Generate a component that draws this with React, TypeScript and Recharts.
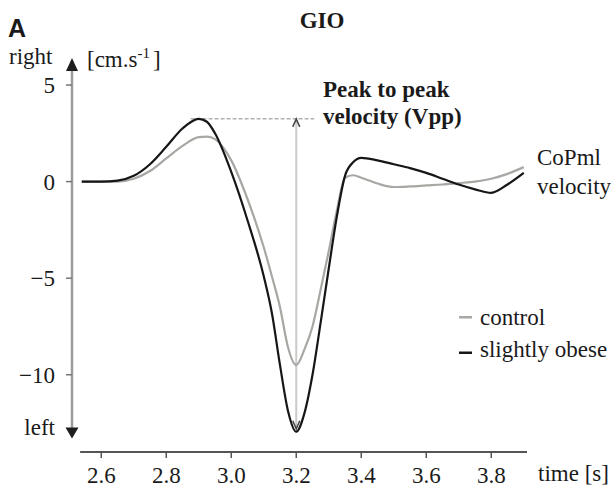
import React from 'react';
import { LineChart, Line, XAxis, YAxis, ReferenceLine } from 'recharts';

// CoPml velocity, cm/s
const time = [2.54, 2.6, 2.65, 2.7, 2.75, 2.8, 2.85, 2.9, 2.925, 2.95, 3.0, 3.05, 3.1, 3.125, 3.15, 3.175, 3.2, 3.225, 3.25, 3.275, 3.3, 3.325, 3.35, 3.375, 3.4, 3.45, 3.5, 3.55, 3.6, 3.65, 3.7, 3.75, 3.8, 3.85, 3.9];
const control = [0, 0, 0, 0.15, 0.55, 1.2, 1.85, 2.3, 2.33, 2.2, 1.1, -0.9, -3.4, -4.9, -6.5, -8.6, -9.5, -8.7, -7.5, -5.6, -3.6, -1.5, 0.2, 0.33, 0.2, -0.1, -0.28, -0.25, -0.2, -0.15, -0.08, 0, 0.15, 0.4, 0.75];
const obese = [0, 0, 0.05, 0.3, 0.9, 1.8, 2.75, 3.25, 3.1, 2.5, 0.5, -2.0, -4.9, -6.8, -9.5, -11.9, -12.95, -12.0, -10.0, -7.3, -4.5, -1.8, 0.3, 1.0, 1.23, 1.1, 0.9, 0.7, 0.45, 0.15, -0.15, -0.4, -0.58, -0.15, 0.45];

const xTicks = [2.6, 2.8, 3.0, 3.2, 3.4, 3.6, 3.8];
const yTicks = [5, 0, -5, -10];
const xDomain = [2.51, 3.91];
const yDomain = [-14, 6.4];
const xAxisStart = 2.535;
const yArrowBottom = -13.3;

const legendLabels = ['control', 'slightly obese'];
const seriesColors = ['#a6a8a3', '#161616'];

const SERIF = "'Liberation Serif', 'Times New Roman', serif";
const INK = '#1a1a1a';

const data = time.map((t, i) => ({ t, control: control[i], obese: obese[i] }));

const peakIdx = obese.indexOf(Math.max(...obese));
const troughIdx = obese.indexOf(Math.min(...obese));
const peakT = time[peakIdx];
const peakV = obese[peakIdx];
const troughT = time[troughIdx];
const troughV = obese[troughIdx];

const YAxisArrow = (props: any) => {
  const { x1, y1, x2, y2 } = props;
  return (
    <g>
      <line x1={x1} y1={y1 + 8} x2={x2} y2={y2 - 8} stroke="#9c9c9c" strokeWidth={2.5} />
      <polygon points={`${x1},${y1} ${x1 - 6},${y1 + 13} ${x1 + 6},${y1 + 13}`} fill="#1e1e1e" />
      <polygon points={`${x2},${y2} ${x2 - 6.5},${y2 - 11} ${x2 + 6.5},${y2 - 11}`} fill="#1e1e1e" />
    </g>
  );
};

const VppArrow = (props: any) => {
  const { x1, y1, x2, y2 } = props;
  return (
    <g>
      <line x1={x1} y1={y1} x2={x2} y2={y2} stroke="#cacaca" strokeWidth={2} />
      <polyline points={`${x1 - 3.5},${y1 + 8} ${x1},${y1} ${x1 + 3.5},${y1 + 8}`} fill="none" stroke="#444" strokeWidth={1.5} />
      <polyline points={`${x2 - 3.5},${y2 - 8} ${x2},${y2} ${x2 + 3.5},${y2 - 8}`} fill="none" stroke="#444" strokeWidth={1.5} />
    </g>
  );
};

const fmtY = (v: number) => (v < 0 ? '\u2212' + Math.abs(v) : String(v));

export default function App() {
  return (
    <div style={{ position: 'absolute', left: 0, top: 0, width: 616, height: 492, background: '#fff' }}>
      <LineChart width={616} height={492} data={data} margin={{ top: 58, right: 89, bottom: 0, left: 8 }}>
        <XAxis
          dataKey="t"
          type="number"
          domain={xDomain}
          ticks={xTicks}
          allowDataOverflow
          tickFormatter={(v: number) => v.toFixed(1)}
          axisLine={false}
          tickLine={{ stroke: '#555', strokeWidth: 1.5 }}
          tickSize={6}
          tickMargin={9}
          height={40}
          tick={{ fill: INK, fontSize: 23, fontFamily: SERIF }}
        />
        <YAxis
          type="number"
          domain={yDomain}
          ticks={yTicks}
          allowDataOverflow
          width={64}
          axisLine={false}
          tickLine={{ stroke: '#777', strokeWidth: 1.5 }}
          tickSize={6}
          tickMargin={11}
          tickFormatter={fmtY}
          tick={{ fill: INK, fontSize: 23, fontFamily: SERIF }}
        />
        <ReferenceLine
          segment={[{ x: xDomain[0], y: yDomain[1] }, { x: xDomain[0], y: yArrowBottom }]}
          shape={YAxisArrow}
        />
        <ReferenceLine
          segment={[{ x: xAxisStart, y: yDomain[0] }, { x: xDomain[1], y: yDomain[0] }]}
          stroke="#555"
          strokeWidth={2}
        />
        <ReferenceLine
          segment={[{ x: peakT - 0.025, y: peakV }, { x: troughT + 0.055, y: peakV }]}
          stroke="#8a8a8a"
          strokeWidth={1}
          strokeDasharray="4 2"
        />
        <ReferenceLine
          segment={[{ x: troughT, y: peakV }, { x: troughT, y: troughV + 0.15 }]}
          shape={VppArrow}
        />
        <Line type="monotone" dataKey="control" stroke={seriesColors[0]} strokeWidth={2.2} dot={false} isAnimationActive={false} />
        <Line type="monotone" dataKey="obese" stroke={seriesColors[1]} strokeWidth={2.2} dot={false} isAnimationActive={false} />
      </LineChart>
      <svg width={616} height={492} style={{ position: 'absolute', left: 0, top: 0, pointerEvents: 'none' }}>
        <text x={8} y={36.5} fontFamily="'Liberation Sans', Arial, sans-serif" fontWeight="bold" fontSize={25} fill={INK}>A</text>
        <text x={322} y={28} textAnchor="middle" fontFamily={SERIF} fontWeight="bold" fontSize={23} fill={INK}>GIO</text>
        <text x={9} y={64} fontFamily={SERIF} fontSize={23} fill={INK}>right</text>
        <text x={87} y={67} fontFamily={SERIF} fontSize={23} fill={INK}>
          [cm.s<tspan fontSize={15} dy={-9}>-1</tspan><tspan dx={3} dy={9}>]</tspan>
        </text>
        <text x={55} y={435} textAnchor="end" fontFamily={SERIF} fontSize={23} fill={INK}>left</text>
        <text x={323} y={97} fontFamily={SERIF} fontWeight="bold" fontSize={23} fill={INK}>Peak to peak</text>
        <text x={323} y={124} fontFamily={SERIF} fontWeight="bold" fontSize={23} fill={INK}>velocity (Vpp)</text>
        <text x={537} y={165} fontFamily={SERIF} fontSize={23} fill={INK}>CoPml</text>
        <text x={537} y={194} fontFamily={SERIF} fontSize={23} fill={INK}>velocity</text>
        {legendLabels.map((label, i) => (
          <g key={label}>
            <rect x={459} y={316 + i * 35.5} width={13} height={2.5} fill={seriesColors[i]} />
            <text x={480} y={325 + i * 32} fontFamily={SERIF} fontSize={23} fill={INK}>{label}</text>
          </g>
        ))}
        <text x={538} y={481} fontFamily={SERIF} fontSize={23} fill={INK}>time [s]</text>
      </svg>
    </div>
  );
}
